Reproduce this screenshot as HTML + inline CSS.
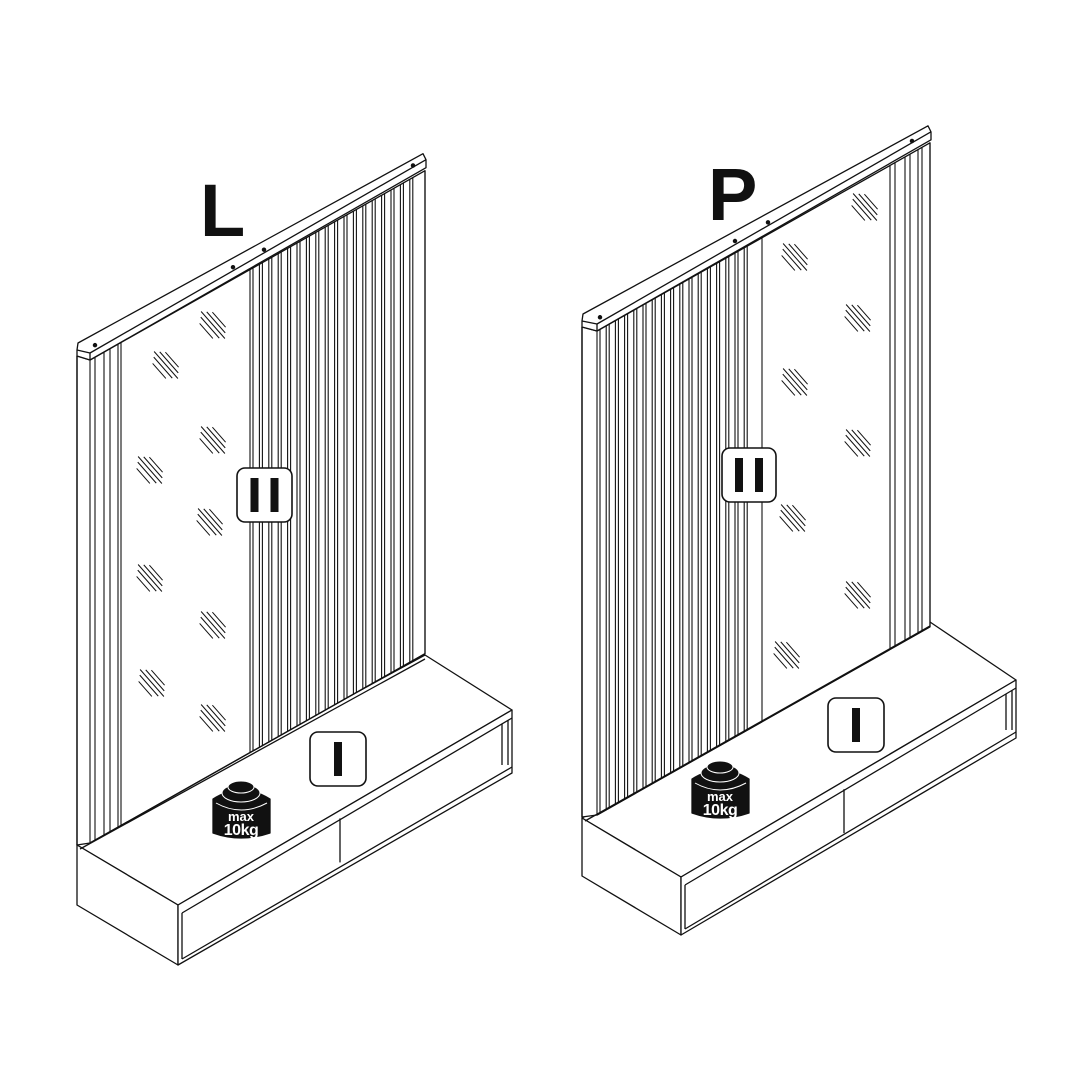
<!DOCTYPE html>
<html><head><meta charset="utf-8">
<style>html,body{margin:0;padding:0;background:#fff}svg{display:block}</style>
</head><body>
<svg id="s" width="1080" height="1080" viewBox="0 0 1080 1080" xmlns="http://www.w3.org/2000/svg" font-family="Liberation Sans, sans-serif">
<rect width="1080" height="1080" fill="#fff"/>
<g id="g" stroke="#111" stroke-width="1.3" fill="none" stroke-linejoin="round"></g>
<text x="200" y="236" font-size="74" font-weight="bold" fill="#111">L</text>
<text x="708" y="220" font-size="74" font-weight="bold" fill="#111">P</text>
</svg>
<script>
var g=document.getElementById('g');var out='';
function L(x1,y1,x2,y2,w){out+='<line x1="'+x1+'" y1="'+y1+'" x2="'+x2+'" y2="'+y2+'"'+(w?' stroke-width="'+w+'"':'')+'/>';}
function P(pts,fill){out+='<polygon points="'+pts+'" fill="'+(fill||'#fff')+'"/>';}
function hatch(cx,cy){var offs=[-9,-4,0,4,8];var lens=[10,14,18,14,10];for(var i=0;i<5;i++){var o=offs[i],l=lens[i];var bx=cx+o*0.75,by=cy-o*0.66;L(bx-l*0.66,by-l*0.75,bx+l*0.66,by+l*0.75,1);}}
function label(x,y,w,h,n){out+='<rect x="'+x+'" y="'+y+'" width="'+w+'" height="'+h+'" rx="8" fill="#fff" stroke-width="1.6"/>';var bw=8,bh=h-20;if(n==1){out+='<rect x="'+(x+w/2-bw/2)+'" y="'+(y+10)+'" width="'+bw+'" height="'+bh+'" fill="#111" stroke="none"/>';}else{out+='<rect x="'+(x+w/2-14)+'" y="'+(y+10)+'" width="'+bw+'" height="'+bh+'" fill="#111" stroke="none"/><rect x="'+(x+w/2+6)+'" y="'+(y+10)+'" width="'+bw+'" height="'+bh+'" fill="#111" stroke="none"/>';}}
function weight(x,y){out+='<path d="M'+x+','+(y+16)+' Q'+(x+28)+','+(y-2)+' '+(x+57)+','+(y+16)+' L'+(x+57)+','+(y+50)+' Q'+(x+28)+','+(y+60)+' '+x+','+(y+50)+' Z" fill="#111" stroke="#111"/>';
out+='<ellipse cx="'+(x+28)+'" cy="'+(y+10)+'" rx="19" ry="9" fill="#111" stroke="#fff" stroke-width="1"/><ellipse cx="'+(x+28)+'" cy="'+(y+4)+'" rx="13" ry="6" fill="#111" stroke="#fff" stroke-width="1"/>';
out+='<path d="M'+(x+3)+','+(y+20)+' Q'+(x+28)+','+(y+34)+' '+(x+54)+','+(y+20)+'" stroke="#fff" stroke-width="1"/>';
out+='<text x="'+(x+28)+'" y="'+(y+38)+'" font-size="13" font-weight="bold" fill="#fff" stroke="none" text-anchor="middle">max</text><text x="'+(x+28)+'" y="'+(y+52)+'" font-size="16" font-weight="bold" fill="#fff" stroke="none" text-anchor="middle" letter-spacing="-0.5">10kg</text>';}

function unit(u){
 var m=-0.565;
 function top(x){return u.ty+m*(x-u.xf);} function bot(x){return u.by+m*(x-u.xf);}
 var b=u.b;
 P(b.lb+' '+b.fc+' '+b.rf+' '+b.rb);
 P(b.lb+' '+b.fc+' '+b.fcb+' '+b.lbb);
 P(b.fc+' '+b.rf+' '+b.rfb+' '+b.fcb);
 var fc=b.fc.split(',').map(Number),rf=b.rf.split(',').map(Number),fcb=b.fcb.split(',').map(Number),rfb=b.rfb.split(',').map(Number),rb=b.rb.split(',').map(Number);
 L(fc[0]+4,fc[1]+8,rf[0],rf[1]+8);
 L(fc[0]+4,fc[1]+8,fc[0]+4,fcb[1]-6);
 L(fc[0]+4,fcb[1]-6,rfb[0],rfb[1]-6);
 L(rf[0]-10,rf[1]+14,rf[0]-10,rfb[1]-8);L(rf[0]-4,rf[1]+10,rf[0]-4,rfb[1]-8);
 var s=(rf[1]-fc[1])/(rf[0]-fc[0]);var dx=u.div;L(dx,fc[1]+s*(dx-fc[0])+8,dx,fc[1]+s*(dx-fc[0])+52);
 P(u.xl+','+(u.ty-4)+' '+u.xf+','+u.ty+' '+u.xr+','+top(u.xr)+' '+u.xr+','+bot(u.xr)+' '+u.xf+','+bot(u.xf)+' '+u.xl+','+(bot(u.xf)+2));
 L(u.xl,u.ty-4,u.xl,bot(u.xf)+2);
 L(u.xf,bot(u.xf),u.xr,bot(u.xr));
 L(u.xl+3,bot(u.xf)+6,rb[0],rb[1]+4);
 u.slats.forEach(function(x){L(x,top(x),x,bot(x),1.1);});
 P(u.xl+','+(u.ty-10)+' '+(u.xl+1)+','+(u.ty-17)+' '+(u.xr-2)+','+(top(u.xr)-17)+' '+(u.xr+1)+','+(top(u.xr)-11)+' '+(u.xr+1)+','+(top(u.xr)-3)+' '+u.xf+','+(u.ty+0)+' '+u.xl+','+(u.ty-4));
 L(u.xl,u.ty-10,u.xf,u.ty-7);L(u.xf,u.ty-7,u.xr+1,top(u.xr)-11);L(u.xf,u.ty-7,u.xf,u.ty);
 u.dots.forEach(function(x){out+='<circle cx="'+x+'" cy="'+(top(x)-12)+'" r="1.6" fill="#111"/>';});
 u.hatch.forEach(function(h){hatch(h[0],h[1]);});
}
function slats(a,b,step){var r=[];for(var x=a;x<=b+0.1;x+=step){r.push(x);r.push(x+3);}return r;}
var sL=[90,95,104,110,118,121].concat(slats(250,418,9.4));sL.push(425);
unit({xl:77,xf:90,xr:425,ty:360,by:843,div:340,
 b:{lb:'77,845',fc:'178,905',rf:'512,710',rb:'425,655',fcb:'178,965',lbb:'77,905',rfb:'512,773'},
 slats:sL,dots:[95,233,264,413],
 hatch:[[166,365],[213,325],[213,440],[150,470],[210,522],[150,578],[213,625],[152,683],[213,718]]});
var sP=slats(597,752,9.2);sP=sP.concat([762,890,895,905,910,918,922,930]);
unit({xl:582,xf:597,xr:930,ty:331,by:815,div:844,
 b:{lb:'582,818',fc:'681,877',rf:'1016,680',rb:'930,622',fcb:'681,935',lbb:'582,876',rfb:'1016,738'},
 slats:sP,dots:[600,735,768,912],
 hatch:[[865,207],[795,257],[858,318],[795,382],[858,443],[793,518],[858,595],[787,655]]});
label(237,468,55,54,2);label(310,732,56,54,1);label(722,448,54,54,2);label(828,698,56,54,1);weight(213,783);weight(692,763);
g.innerHTML=out;
</script>
</body></html>
